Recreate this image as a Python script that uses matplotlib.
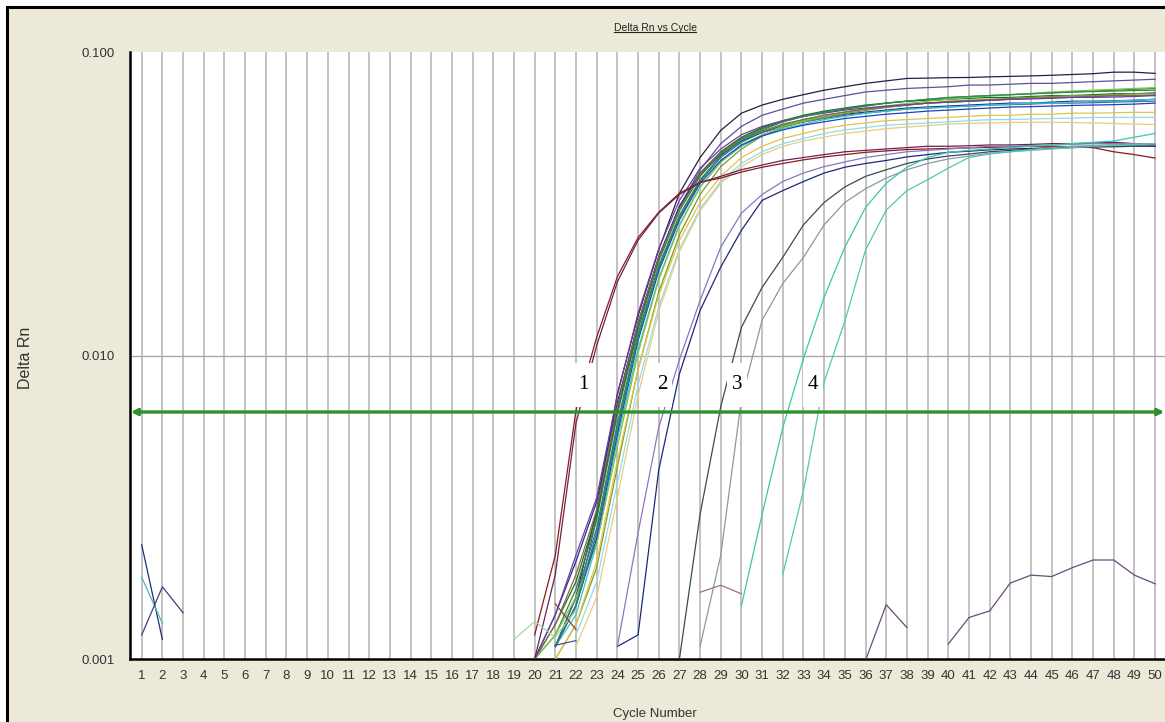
import numpy as np
import matplotlib
matplotlib.use("Agg")
import matplotlib.pyplot as plt
import matplotlib.transforms as mtransforms
from matplotlib.patches import Rectangle
from matplotlib.lines import Line2D
from matplotlib.ticker import NullLocator

# Amplification curves: (first cycle, Delta Rn per cycle, colour)
dark_top = [0.0011, 0.0016, 0.0031, 0.0075, 0.0135, 0.0223, 0.0343, 0.045, 0.0553, 0.063,
            0.067, 0.070, 0.0725, 0.075, 0.077, 0.079, 0.0805, 0.082, 0.0822, 0.0825,
            0.0826, 0.083, 0.0833, 0.0836, 0.084, 0.0845, 0.085, 0.086, 0.086, 0.0852]
blue_purple = [0.0011, 0.0015, 0.0029, 0.0068, 0.0128, 0.021, 0.031, 0.041, 0.050, 0.057,
               0.062, 0.065, 0.068, 0.070, 0.072, 0.074, 0.075, 0.076, 0.0765, 0.077,
               0.078, 0.078, 0.0785, 0.079, 0.079, 0.0795, 0.080, 0.0805, 0.081, 0.0815]
green = [0.0010, 0.0012, 0.0017, 0.0029, 0.0064, 0.0122, 0.0205, 0.030, 0.039, 0.0465,
         0.052, 0.056, 0.059, 0.0615, 0.0635, 0.065, 0.0665, 0.068, 0.069, 0.070,
         0.071, 0.0715, 0.072, 0.0725, 0.073, 0.0735, 0.074, 0.0745, 0.075, 0.0755, 0.076]
dark_green = [0.0010, 0.0013, 0.0018, 0.0030, 0.0066, 0.0125, 0.021, 0.031, 0.040, 0.047,
              0.0525, 0.0565, 0.0595, 0.062, 0.064, 0.0655, 0.067, 0.068, 0.069, 0.0695,
              0.070, 0.0705, 0.071, 0.071, 0.0715, 0.072, 0.072, 0.0725, 0.073, 0.073, 0.0735]
teal = [0.0011, 0.0015, 0.0026, 0.0058, 0.0115, 0.0195, 0.0285, 0.0375, 0.045, 0.0505,
        0.0545, 0.0575, 0.060, 0.062, 0.0635, 0.065, 0.066, 0.067, 0.068, 0.0685,
        0.069, 0.0695, 0.070, 0.0705, 0.071, 0.0712, 0.0715, 0.072, 0.072, 0.0722]
navy = [0.0010, 0.0014, 0.0021, 0.0033, 0.0070, 0.0128, 0.0212, 0.031, 0.0395, 0.046,
        0.051, 0.0545, 0.057, 0.059, 0.061, 0.0625, 0.0635, 0.0645, 0.0655, 0.066,
        0.0665, 0.067, 0.0675, 0.068, 0.068, 0.0685, 0.069, 0.069, 0.0692, 0.0695, 0.070]
steel = [0.0011, 0.0016, 0.0027, 0.0060, 0.0118, 0.0198, 0.029, 0.038, 0.0455, 0.051,
         0.0545, 0.057, 0.059, 0.0605, 0.062, 0.063, 0.064, 0.065, 0.0655, 0.066,
         0.0665, 0.067, 0.0672, 0.0675, 0.068, 0.068, 0.0682, 0.0685, 0.0688, 0.069]
olive = [0.0010, 0.0013, 0.0020, 0.0043, 0.0090, 0.0162, 0.025, 0.034, 0.042, 0.048,
         0.053, 0.0565, 0.059, 0.061, 0.0628, 0.0643, 0.0658, 0.067, 0.068, 0.069,
         0.0695, 0.070, 0.0705, 0.071, 0.0715, 0.072, 0.072, 0.0725, 0.073, 0.073]
turquoise = [0.0011, 0.0014, 0.0024, 0.0053, 0.0105, 0.018, 0.027, 0.036, 0.0435, 0.049,
             0.053, 0.056, 0.058, 0.060, 0.0615, 0.063, 0.064, 0.065, 0.0655, 0.066,
             0.0665, 0.067, 0.0675, 0.068, 0.068, 0.0685, 0.069, 0.069, 0.0695, 0.070]
yellow = [0.0010, 0.0013, 0.0021, 0.0045, 0.0090, 0.0158, 0.024, 0.032, 0.039, 0.045,
          0.049, 0.052, 0.054, 0.056, 0.0575, 0.0585, 0.0595, 0.060, 0.0605, 0.061,
          0.0615, 0.062, 0.062, 0.0625, 0.0625, 0.063, 0.063, 0.0632, 0.0634, 0.0634]
pale_cyan = [0.0012, 0.0018, 0.0038, 0.0080, 0.0145, 0.0225, 0.0305, 0.0375, 0.043, 0.047,
             0.050, 0.052, 0.054, 0.0555, 0.0565, 0.0575, 0.058, 0.0585, 0.059, 0.0595,
             0.060, 0.060, 0.0603, 0.0605, 0.0607, 0.061, 0.061, 0.061, 0.061]
khaki = [0.0011, 0.0016, 0.0034, 0.0074, 0.014, 0.022, 0.030, 0.037, 0.042, 0.046,
         0.049, 0.051, 0.0525, 0.054, 0.055, 0.056, 0.0567, 0.0573, 0.058, 0.0583,
         0.0585, 0.0587, 0.0588, 0.0588, 0.0587, 0.0585, 0.0583, 0.058, 0.0578]
lime = [0.0010, 0.0012, 0.0016, 0.0024, 0.0050, 0.0102, 0.0178, 0.0268, 0.036, 0.0435,
        0.0495, 0.0535, 0.057, 0.0595, 0.0615, 0.0635, 0.065, 0.0665, 0.0678, 0.069,
        0.070, 0.071, 0.0718, 0.0725, 0.0732, 0.074, 0.0745, 0.075, 0.0755, 0.076, 0.0765]
brown_gray = [0.0010, 0.0013, 0.0019, 0.0031, 0.0068, 0.0128, 0.021, 0.0305, 0.0395, 0.0465,
              0.0515, 0.055, 0.058, 0.060, 0.062, 0.0635, 0.065, 0.066, 0.067, 0.068,
              0.0685, 0.069, 0.0695, 0.070, 0.0705, 0.071, 0.071, 0.0715, 0.072, 0.072, 0.0722]
purple = [0.0010, 0.0014, 0.0022, 0.0034, 0.0074, 0.0138, 0.0225, 0.0325, 0.0415, 0.048,
          0.0535, 0.057, 0.0595, 0.0615, 0.063, 0.0645, 0.0655, 0.0665, 0.0672, 0.068,
          0.0685, 0.069, 0.0695, 0.070, 0.0702, 0.0705, 0.071, 0.071, 0.0712, 0.0715, 0.072]
blue = [0.0011, 0.0015, 0.0025, 0.0055, 0.0112, 0.019, 0.028, 0.037, 0.044, 0.0495,
        0.053, 0.0555, 0.0575, 0.059, 0.0605, 0.0615, 0.0625, 0.0632, 0.064, 0.0645,
        0.065, 0.0655, 0.066, 0.0662, 0.0665, 0.0668, 0.067, 0.0672, 0.0675, 0.068]
sea_green = [0.0011, 0.0015, 0.0026, 0.0057, 0.0115, 0.0195, 0.0288, 0.0378, 0.0455, 0.0515,
             0.0555, 0.059, 0.0615, 0.0635, 0.065, 0.0665, 0.068, 0.069, 0.070, 0.0708,
             0.0715, 0.072, 0.0725, 0.073, 0.0735, 0.074, 0.0742, 0.0745, 0.0748, 0.075]

# early group (label 1)
red_1 = [0.0012, 0.0022, 0.0066, 0.0115, 0.0182, 0.0245, 0.0297, 0.0343, 0.0373, 0.0385,
         0.0403, 0.0418, 0.043, 0.0442, 0.0452, 0.046, 0.0468, 0.0473, 0.0478, 0.048,
         0.0482, 0.0484, 0.0486, 0.0488, 0.049, 0.049, 0.0488, 0.0485, 0.047, 0.046, 0.0448]
maroon_1 = [0.0010, 0.0019, 0.0060, 0.0108, 0.0175, 0.024, 0.0295, 0.034, 0.0372, 0.039,
            0.041, 0.0425, 0.044, 0.045, 0.046, 0.047, 0.0475, 0.048, 0.0485, 0.049,
            0.049, 0.0492, 0.0495, 0.0495, 0.0497, 0.050, 0.050, 0.0502, 0.0505, 0.050, 0.0495]
# label 2
navy_2 = [0.0011, 0.0012, 0.0042, 0.0087, 0.0141, 0.0196, 0.0259, 0.0325, 0.035, 0.0375,
          0.040, 0.0418, 0.043, 0.044, 0.0452, 0.046, 0.0468, 0.0472, 0.0477, 0.048,
          0.0482, 0.0485, 0.0487, 0.049, 0.049, 0.0492, 0.049]
lavender_2 = [0.0011, 0.0026, 0.0058, 0.0097, 0.0152, 0.0228, 0.0295, 0.034, 0.0375, 0.040,
              0.042, 0.0435, 0.045, 0.046, 0.047, 0.0475, 0.048, 0.0485, 0.049, 0.049,
              0.0493, 0.0495, 0.0497, 0.050, 0.050, 0.050, 0.050]
# label 3
slate_3 = [0.0010, 0.0030, 0.0068, 0.0124, 0.0168, 0.0211, 0.027, 0.032, 0.036, 0.039,
           0.041, 0.043, 0.0445, 0.0455, 0.0462, 0.047, 0.0475, 0.048, 0.0483, 0.0485,
           0.0487, 0.0488, 0.049, 0.049]
gray_3 = [0.0011, 0.0022, 0.0072, 0.0131, 0.0173, 0.0211, 0.027, 0.032, 0.0355, 0.0385,
          0.041, 0.043, 0.0445, 0.0455, 0.0465, 0.047, 0.0478, 0.0485, 0.049, 0.0493,
          0.0496, 0.0498, 0.050]
# label 4
cyan_4a = [0.0015, 0.0030, 0.0058, 0.0098, 0.0156, 0.0228, 0.0308, 0.037, 0.0418, 0.045,
           0.0468, 0.0475, 0.048, 0.0485, 0.049, 0.0495, 0.050, 0.0505, 0.051, 0.0525, 0.054]
cyan_4b = [0.0019, 0.0036, 0.0082, 0.013, 0.0223, 0.0302, 0.035, 0.038, 0.0415, 0.045,
           0.0462, 0.047, 0.0475, 0.048, 0.0485, 0.049, 0.0493, 0.0495, 0.050]

# baseline noise fragments
noise_a = [0.00238, 0.00116]
noise_b = [0.00186, 0.00131]
noise_c = [0.0012, 0.00173, 0.00142]
noise_d = [0.00116, 0.00133, 0.00118, 0.00145]
noise_e = [0.00152, 0.00125]
noise_f = [0.00111, 0.00115]
noise_g = [0.00166, 0.00175, 0.00164]
noise_h = [0.00099, 0.00151, 0.00127]
noise_i = [0.00112, 0.00137, 0.00144, 0.00178, 0.00189, 0.00187, 0.00200, 0.00212,
           0.00212, 0.00189, 0.00177]

curves = [
    (21, dark_top, "#2e1a47"), (21, blue_purple, "#5a4fa0"),
    (20, green, "#2e8b2e"), (20, dark_green, "#1d6b2a"), (21, teal, "#1a8a8a"),
    (20, navy, "#23308c"), (21, steel, "#3a6ea5"), (21, olive, "#7a9a2a"),
    (21, turquoise, "#30c8c0"), (21, yellow, "#e6c24a"), (22, pale_cyan, "#8edde8"),
    (22, khaki, "#ebcb7e"), (20, lime, "#7cc444"), (20, brown_gray, "#8a6a4a"),
    (20, purple, "#6a3fa0"), (21, blue, "#2040c0"), (21, sea_green, "#2e8b57"),
    (20, red_1, "#8b1a1a"), (20, maroon_1, "#702050"),
    (24, navy_2, "#1a2a7a"), (24, lavender_2, "#8878c0"),
    (27, slate_3, "#3a4a5a"), (28, gray_3, "#8a9aa0"),
    (30, cyan_4a, "#38c8a8"), (32, cyan_4b, "#50c8b8"),
    (1, noise_a, "#20307a"), (1, noise_b, "#5ab0b0"), (1, noise_c, "#404080"),
    (19, noise_d, "#a0d8a0"), (21, noise_e, "#7a4a2a"), (21, noise_f, "#4050a0"),
    (28, noise_g, "#9a7090"), (36, noise_h, "#6a4a7a"), (40, noise_i, "#6a4a7a"),
]

threshold = 0.00652
ct_labels = ["1", "2", "3", "4"]
ct_label_cycles = [22.34, 26.18, 29.79, 33.47]

beige = "#ece9d8"
plt.rcParams["font.family"] = ["Liberation Sans", "DejaVu Sans"]

fig = plt.figure(figsize=(11.65, 7.22), dpi=100)
fig.patch.set_facecolor("white")
fig.patches.append(Rectangle((7 / 1165, -0.05), 1.1, 1 - 7 / 722 + 0.05,
                             transform=fig.transFigure, facecolor=beige,
                             edgecolor="black", lw=2.2, zorder=-10))

ax = fig.add_axes([130 / 1165, 1 - 659 / 722, 1035 / 1165, (659 - 52.3) / 722])
ax.set_facecolor("white")

for start, vals, col in curves:
    cyc = np.arange(start, start + len(vals))
    ax.plot(cyc, vals, color=col, lw=0.9, zorder=3)

ax.set_yscale("log")
ax.set_ylim(0.001, 0.1)
ax.set_xlim(0.434, 50.48)
ax.set_yticks([0.001, 0.01, 0.1])
ax.set_yticklabels(["0.001", "0.010", "0.100"])
ax.yaxis.set_minor_locator(NullLocator())
ax.set_xticks(np.arange(1, 51))
ax.set_xticklabels([str(i) for i in range(1, 51)])
ax.tick_params(axis="x", length=0, pad=8, labelsize=9.5, labelcolor="#333333")
ax.tick_params(axis="y", length=0, pad=11, labelsize=9.5, labelcolor="#333333")
ax.grid(axis="x", color="#bdbdbd", lw=1.3, zorder=1)
ax.axhline(0.01, color="#a8a8a8", lw=1.0, zorder=1)
ax.set_axisbelow(True)

for side in ["top", "right"]:
    ax.spines[side].set_visible(False)
for side in ["left", "bottom"]:
    ax.spines[side].set_linewidth(1.8)
    ax.spines[side].set_color("black")

# threshold line with arrow heads
ax.annotate("", xy=(0.47, threshold), xytext=(50.45, threshold),
            arrowprops=dict(arrowstyle="<->", color="#2f8f2f", lw=2.4,
                            mutation_scale=9, shrinkA=0, shrinkB=0), zorder=5)

# Ct group labels
blend = mtransforms.blended_transform_factory(ax.transData, ax.transAxes)
for lab, cx in zip(ct_labels, ct_label_cycles):
    ax.add_patch(Rectangle((cx - 0.47, 0.4154), 0.95, 0.0725, transform=blend,
                           facecolor="white", edgecolor="none", zorder=6))
    ax.text(cx, 0.452, lab, transform=blend, ha="center", va="center",
            fontsize=15, family=["Liberation Serif", "DejaVu Serif"], zorder=7)

fig.text(655 / 1165, 1 - 714 / 722, "Cycle Number", ha="center", va="center",
         fontsize=9.5, color="#333333")
fig.text(26 / 1165, 1 - 358 / 722, "Delta Rn", ha="center", va="center",
         rotation=90, fontsize=11.5, color="#333333")
title = fig.text(655 / 1165, 1 - 28 / 722, "Delta Rn vs Cycle", ha="center",
                 va="center", fontsize=7.5, color="#222222")

fig.canvas.draw()
bb = title.get_window_extent().transformed(fig.transFigure.inverted())
fig.lines.append(Line2D([bb.x0, bb.x1], [bb.y0 + 0.001, bb.y0 + 0.001],
                        transform=fig.transFigure, color="#222222", lw=0.8))

fig.savefig("out.png", dpi=100, facecolor=fig.get_facecolor())
